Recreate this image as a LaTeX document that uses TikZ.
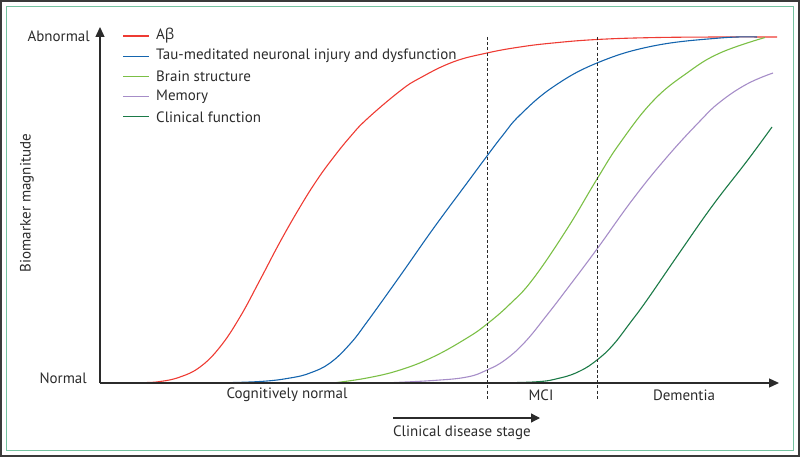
\documentclass[tikz,border=0pt]{standalone}
\usepackage{fontspec}
\setmainfont{PT Sans}
\newfontfamily\greekfont{Open Sans}
\usetikzlibrary{arrows.meta}
\usetikzlibrary{positioning}
\definecolor{frameGrey}{HTML}{3A3A3A}
\definecolor{frameGreen}{HTML}{74C2A0}
\definecolor{textGrey}{HTML}{2B2B2B}
\definecolor{abetaRed}{HTML}{EE3B33}
\definecolor{tauBlue}{HTML}{1565AE}
\definecolor{brainGreen}{HTML}{7BBF45}
\definecolor{memPurple}{HTML}{A68DC8}
\definecolor{clinGreen}{HTML}{1B7A47}

\begin{document}
\begin{tikzpicture}[x=1pt, y=-1pt,
    every node/.style={text=textGrey, font=\fontsize{15}{17}\selectfont, inner sep=1pt},
    curve/.style={line width=1.1pt, line join=round},
    axis/.style={line width=1.3pt, draw=textGrey, -{Triangle[length=10pt,width=9pt]}},
    stageline/.style={draw=textGrey, line width=0.9pt, dash pattern=on 3pt off 2.2pt}]
    \useasboundingbox (0,0) rectangle (800,457);
    \draw[frameGrey, line width=2pt] (1,1) rectangle (799,456);
    \draw[frameGreen, line width=1.5pt] (6.5,6.5) rectangle (793.5,450.5);

    % curves
    \draw[curve, abetaRed] plot[smooth, tension=0.7] coordinates {(100,383) (140,382.7) (160,381.5) (180,377) (200,367) (220,347) (240,317) (260,280) (280,242) (300,207) (317,180) (333,158) (350,137) (367,119) (400,91) (420,78) (453,62) (487,53) (520,47) (553,43) (597,39.5) (653,37.6) (720,37) (777,37)};
    \draw[curve, tauBlue] plot[smooth, tension=0.7] coordinates {(212,383) (260,381.5) (290,378) (310,373) (330,363) (350,344) (367,322) (400,276) (433,229) (467,183) (487,156) (503,135) (520,115) (553,87) (597,63) (653,46) (720,38) (757,37)};
    \draw[curve, brainGreen] plot[smooth, tension=0.7] coordinates {(333,383) (367,378) (400,370) (433,357) (467,338) (487,324) (510,304) (533,279) (567,229) (597,179) (620,143) (653,101) (687,73) (720,53) (765,37.5)};
    \draw[curve, memPurple] plot[smooth, tension=0.7] coordinates {(383,383) (433,380.5) (467,377) (487,370) (505,360) (525,342) (547,315) (567,289) (597,249) (633,199) (667,157) (700,121) (720,102) (747,84) (773,73)};
    \draw[curve, clinGreen] plot[smooth, tension=0.7] coordinates {(472,383) (533,382) (560,378) (580,371) (597,360) (613,345) (630,323) (647,300) (680,252) (713,205) (747,161) (772,127)};

    % axes
    \coordinate (origin) at (100,383);
    \coordinate (ytip) at (100,27);
    \coordinate (xtip) at (779,383);
    \draw[axis] (origin) -- (ytip);
    \draw[axis] (origin) -- (xtip);
    \node[anchor=east] (abnormal) at (91,36) {Abnormal};
    \node[anchor=east] (normal) at (88,378) {Normal};
    \node[rotate=90] (ylabel) at (27,203) {Biomarker magnitude};

    % stage boundaries
    \foreach \x/\nm in {487/mciStart, 597/demStart} {
        \coordinate (\nm top) at (\x,37);
        \coordinate (\nm bot) at (\x,399);
        \draw[stageline] (\nm top) -- (\nm bot);
    }
    \node (cogn) at (287,395) {Cognitively normal};
    \node (mci) at (541,395) {MCI};
    \node (dementia) at (684,395) {Dementia};

    % clinical stage arrow
    \coordinate (stageFrom) at (393,418);
    \coordinate (stageTo) at (540,418);
    \draw[line width=1.3pt, draw=textGrey, -{Triangle[length=9pt,width=9pt]}] (stageFrom) -- (stageTo);
    \node (stage) at (462,433) {Clinical disease stage};

    % legend
    \foreach \i/\col/\txt in {0/abetaRed/A{\greekfont β}, 1/tauBlue/Tau-meditated neuronal injury and dysfunction, 2/brainGreen/Brain structure, 3/memPurple/Memory, 4/clinGreen/Clinical function} {
        \coordinate (legA\i) at (123,36+20.2*\i);
        \coordinate (legB\i) at (149,36+20.2*\i);
        \draw[\col, line width=1.2pt] (legA\i) -- (legB\i);
        \node[anchor=west] (leg\i) at (155,36+20.2*\i) {\txt};
    }
\end{tikzpicture}
\end{document}
